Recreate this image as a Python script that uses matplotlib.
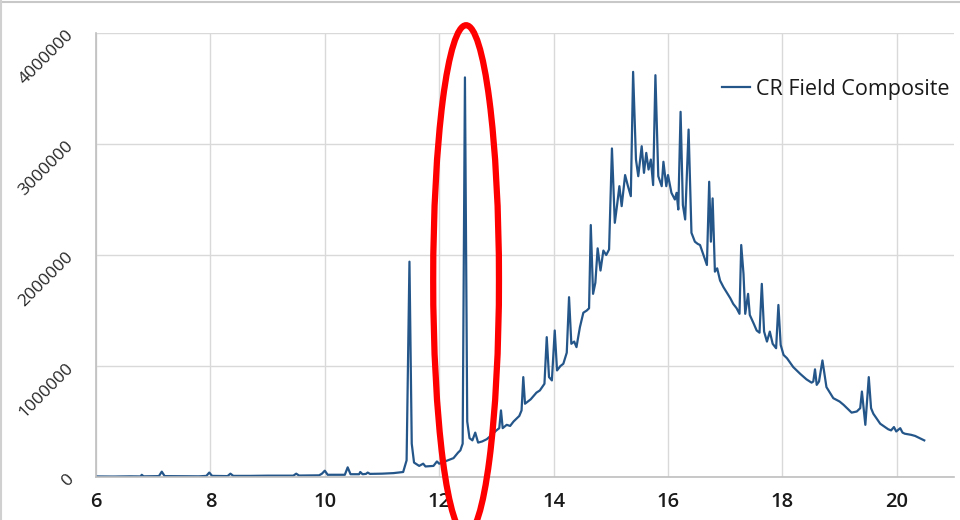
import numpy as np
import matplotlib
matplotlib.use("Agg")
import matplotlib.pyplot as plt
from matplotlib.patches import Ellipse
from matplotlib.lines import Line2D

plt.rcParams['font.family'] = ['Open Sans', 'DejaVu Sans']

series_name = "CR Field Composite"

# retention time (min)
times = [
    6.0, 6.3, 6.6, 6.78, 6.8, 6.83, 7.1, 7.15, 7.2, 7.5, 7.8, 7.93, 7.98, 8.03,
    8.3, 8.35, 8.4, 8.7, 9.0, 9.45, 9.5, 9.55, 9.9, 9.95, 10.0, 10.05, 10.35,
    10.4, 10.45, 10.6, 10.62, 10.66, 10.72, 10.75, 10.79, 11.0, 11.2, 11.37,
    11.43, 11.48, 11.52, 11.56, 11.65, 11.72, 11.76, 11.9, 11.96, 12.0, 12.1,
    12.15, 12.25, 12.33, 12.37, 12.41, 12.45, 12.49, 12.53, 12.58, 12.63, 12.68,
    12.75, 12.83, 12.92, 13.0, 13.05, 13.08, 13.11, 13.18, 13.24, 13.3, 13.4,
    13.44, 13.47, 13.5, 13.6, 13.7, 13.76, 13.84, 13.88, 13.92, 13.97, 14.02,
    14.06, 14.12, 14.17, 14.23, 14.27, 14.31, 14.36, 14.40, 14.46, 14.52, 14.58,
    14.62, 14.65, 14.69, 14.73, 14.77, 14.82, 14.87, 14.92, 14.97, 15.02, 15.07,
    15.11, 15.15, 15.19, 15.25, 15.30, 15.35, 15.39, 15.44, 15.48, 15.54, 15.58,
    15.62, 15.66, 15.70, 15.74, 15.78, 15.83, 15.89, 15.92, 15.97, 16.0, 16.06,
    16.12, 16.15, 16.18, 16.22, 16.26, 16.30, 16.36, 16.41, 16.47, 16.52, 16.56,
    16.62, 16.68, 16.72, 16.75, 16.78, 16.82, 16.86, 16.91, 16.97, 17.03, 17.09,
    17.14, 17.20, 17.25, 17.28, 17.32, 17.35, 17.40, 17.43, 17.50, 17.55, 17.60,
    17.64, 17.68, 17.73, 17.78, 17.83, 17.89, 17.93, 17.97, 18.02, 18.08, 18.19,
    18.31, 18.42, 18.51, 18.54, 18.57, 18.60, 18.64, 18.70, 18.77, 18.89, 19.0,
    19.07, 19.21, 19.30, 19.36, 19.39, 19.45, 19.51, 19.55, 19.59, 19.71, 19.85,
    19.90, 19.95, 19.99, 20.06, 20.10, 20.14, 20.25, 20.32, 20.40, 20.48,
]

# abundance (millions of counts)
abundance_m = [
    0.005, 0.004, 0.006, 0.005, 0.02, 0.006, 0.008, 0.048, 0.008, 0.007, 0.006, 0.01, 0.04, 0.01,
    0.008, 0.03, 0.01, 0.01, 0.012, 0.012, 0.03, 0.013, 0.015, 0.03, 0.057, 0.02, 0.02,
    0.087, 0.025, 0.025, 0.045, 0.025, 0.028, 0.04, 0.028, 0.03, 0.035, 0.045,
    0.15, 1.94, 0.3, 0.13, 0.10, 0.12, 0.095, 0.10, 0.14, 0.12, 0.14,
    0.15, 0.17, 0.22, 0.24, 0.3, 3.6, 0.5, 0.35, 0.33, 0.40, 0.31,
    0.32, 0.34, 0.38, 0.42, 0.44, 0.60, 0.44, 0.47, 0.46, 0.5, 0.55,
    0.6, 0.90, 0.66, 0.70, 0.76, 0.78, 0.84, 1.26, 0.90, 0.87, 1.32,
    0.96, 1.0, 1.02, 1.12, 1.62, 1.2, 1.22, 1.17, 1.35, 1.48, 1.5,
    1.52, 2.27, 1.65, 1.75, 2.06, 1.86, 2.04, 2.0, 2.05, 2.96, 2.29,
    2.45, 2.62, 2.44, 2.72, 2.62, 2.53, 3.65, 2.86, 2.71, 2.98, 2.74,
    2.92, 2.77, 2.86, 2.63, 3.62, 2.71, 2.62, 2.84, 2.62, 2.72, 2.56,
    2.50, 2.56, 2.41, 3.29, 2.45, 2.32, 3.13, 2.20, 2.12, 2.10, 2.09,
    2.0, 1.91, 2.66, 2.12, 2.51, 1.85, 1.88, 1.77, 1.71, 1.66, 1.61,
    1.56, 1.52, 1.47, 2.09, 1.83, 1.47, 1.65, 1.46, 1.38, 1.32, 1.30,
    1.74, 1.31, 1.22, 1.31, 1.20, 1.16, 1.55, 1.19, 1.10, 1.07, 0.99,
    0.93, 0.88, 0.85, 0.86, 0.97, 0.83, 0.86, 1.05, 0.81, 0.71, 0.68,
    0.65, 0.58, 0.59, 0.62, 0.77, 0.47, 0.90, 0.62, 0.57, 0.48, 0.43,
    0.42, 0.45, 0.41, 0.44, 0.40, 0.39, 0.38, 0.37, 0.35, 0.33,
]

x_ticks = [6, 8, 10, 12, 14, 16, 18, 20]
y_ticks = [0, 1000000, 2000000, 3000000, 4000000]

x = np.array(times)
y = np.array(abundance_m) * 1e6

fig = plt.figure(figsize=(9.6, 5.2), dpi=100)
ax = fig.add_axes([96/960, 43/520, 858/960, 444/520])

ax.plot(x, y, color='#25568a', lw=1.6, label=series_name, solid_joinstyle='round')

ax.set_xlim(6, 21)
ax.set_ylim(0, 4000000)
ax.set_xticks(x_ticks)
ax.set_yticks(y_ticks)
ax.set_xticklabels([str(t) for t in x_ticks], fontsize=14.5, color='#1a1a1a',
                   fontweight='semibold')
ax.set_yticklabels([str(t) for t in y_ticks], fontsize=12.5, color='#262626',
                   rotation=45, rotation_mode='anchor', ha='right', va='center')
ax.tick_params(axis='both', length=0)
ax.tick_params(axis='x', pad=11)
ax.tick_params(axis='y', pad=18)
ax.grid(True, color='#d9d9d9', lw=1)
ax.set_axisbelow(True)
for s in ['top', 'right']:
    ax.spines[s].set_visible(False)
for s in ['left', 'bottom']:
    ax.spines[s].set_color('#bfbfbf')
    ax.spines[s].set_linewidth(1.2)

leg = ax.legend(loc='center left', bbox_to_anchor=(722/960, 1 - 89/520),
                bbox_transform=fig.transFigure, frameon=False, fontsize=15.5,
                handlelength=1.3, handletextpad=0.3, borderpad=0, borderaxespad=0)
for t in leg.get_texts():
    t.set_color('#1a1a1a')
    t.set_fontweight('medium')

ell = Ellipse((12.47, 1775000), width=1.15, height=4590000, fill=False,
              edgecolor='#ff0000', lw=4.5, clip_on=False, zorder=5)
ax.add_patch(ell)

# thin frame of the original screenshot
fig.add_artist(Line2D([0, 1], [0.997, 0.997], transform=fig.transFigure, color='#c8c8c8', lw=1.5))
fig.add_artist(Line2D([0.001, 0.001], [0, 1], transform=fig.transFigure, color='#d0d0d0', lw=1.5))

fig.savefig('out.png', dpi=100)
